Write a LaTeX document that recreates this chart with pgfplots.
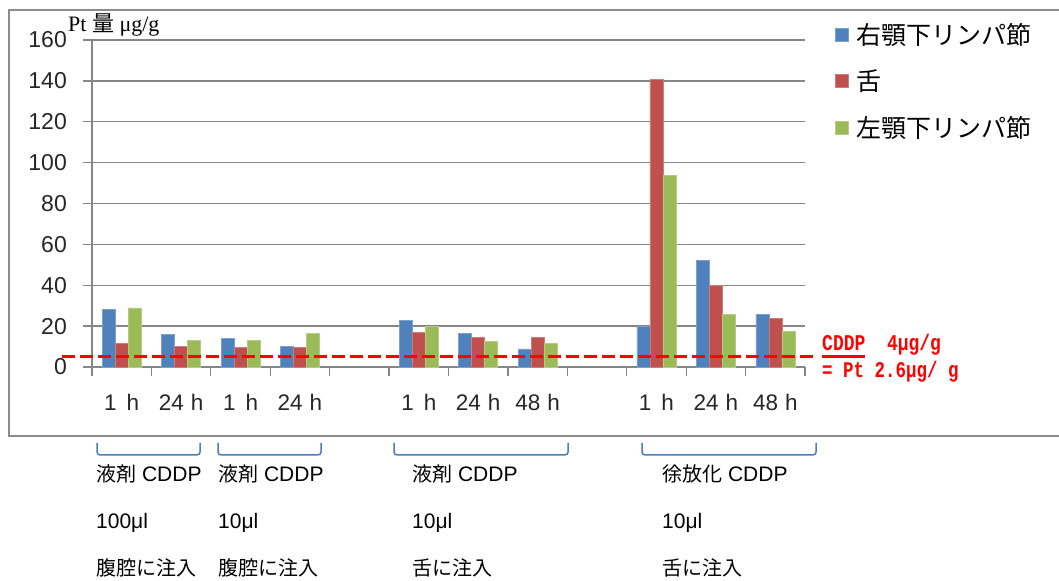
\documentclass[border=0pt]{standalone}
\usepackage{pgfplots}
\pgfplotsset{compat=1.18}
\usepackage{pgfplotstable}
\usepackage{fontspec}
\usepackage{graphicx}
\setmainfont{Liberation Sans}
\newfontfamily\cjk{Noto Sans CJK JP}
\newfontfamily\serif{Liberation Serif}
\newfontfamily\mono{Liberation Mono}
\definecolor{blueC}{HTML}{4F81BD}
\definecolor{redC}{HTML}{C0504D}
\definecolor{greenC}{HTML}{9BBB59}
\definecolor{gridgray}{HTML}{868686}
\definecolor{framegray}{HTML}{8C8C8C}
\definecolor{bracketC}{HTML}{4A7EBB}
\newcommand\J[1]{{\cjk\fontsize{20bp}{24bp}\selectfont #1}}

% x = slot (1..12), slots 5 and 9 are empty
\pgfplotstableread{
x y
1 28.3
2 15.8
3 14.0
4 10.2
6 22.7
7 16.5
8 8.9
10 19.8
11 52.0
12 25.6
}\rightLN
\pgfplotstableread{
x y
1 11.4
2 10.2
3 9.5
4 9.5
6 16.9
7 14.5
8 14.5
10 140.8
11 39.9
12 23.7
}\tongue
\pgfplotstableread{
x y
1 28.9
2 13.2
3 13.2
4 16.5
6 20.0
7 12.6
8 11.5
10 93.7
11 25.6
12 17.6
}\leftLN

\pgfplotsset{
  legsq/.style={legend image code/.code={\fill[##1] (0bp,-6.5bp) rectangle (13bp,6.5bp);}}
}

\begin{document}
\begin{tikzpicture}[x=1bp,y=1bp]
\path[use as bounding box] (0,0) rectangle (1059,581);
\draw[framegray, line width=2bp] (1075,571) -- (9,571) -- (9,145) -- (1075,145);
\begin{axis}[
  at={(92bp,214bp)}, anchor=south west,
  scale only axis, width=713bp, height=327bp,
  xmin=0.5, xmax=12.5, ymin=0, ymax=160,
  clip=false,
  axis x line*=bottom, axis y line*=left,
  axis line style={draw=gridgray, line width=1.3bp, -},
  ytick={0,20,...,160},
  ymajorgrids, grid style={draw=gridgray, line width=1.3bp},
  xtick={0.5,1.5,...,12.5}, xticklabels={},
  tick align=outside, major tick length=9bp,
  tick style={draw=gridgray, line width=1.3bp},
  extra x ticks={1,2,...,12},
  extra x tick labels={1\hspace{10bp}h, 24\hspace{7bp}h, 1\hspace{10bp}h, 24\hspace{7bp}h, {}, 1\hspace{10bp}h, 24\hspace{7bp}h, 48\hspace{7bp}h, {}, 1\hspace{10bp}h, 24\hspace{7bp}h, 48\hspace{7bp}h},
  extra x tick style={major tick length=0pt, xmajorgrids=false,
     xticklabel style={anchor=base, yshift=-44bp, font=\fontsize{22.5bp}{26bp}\selectfont, text=black!85}},
  /pgf/number format/assume math mode=true,
  yticklabel style={anchor=east, inner sep=0pt, xshift=-16bp, font=\fontsize{23bp}{27bp}\selectfont, text=black!85},
  ybar=0pt, bar width=13bp,
  legend style={at={(axis description cs:1.0421,1.061)}, anchor=north west, draw=none, fill=none,
     inner sep=0pt, row sep=18bp, column sep=5bp, font=\fontsize{25bp}{30bp}\selectfont\cjk,
     nodes={inner sep=3bp}, cells={anchor=west}},
  legend cell align=left,
]
\addplot[fill=blueC, draw=blueC!75!white, line width=0.5bp, legsq] table[x=x,y=y] {\rightLN};
\addlegendentry{右顎下リンパ節}
\addplot[fill=redC, draw=redC!75!white, line width=0.5bp, legsq] table[x=x,y=y] {\tongue};
\addlegendentry{舌}
\addplot[fill=greenC, draw=greenC!75!white, line width=0.5bp, legsq] table[x=x,y=y] {\leftLN};
\addlegendentry{左顎下リンパ節}
\addplot[sharp plot, red, line width=3bp, dash pattern=on 13bp off 5bp, forget plot] coordinates {(0,5) (12.63,5)};
\addplot[sharp plot, red, line width=3bp, forget plot] coordinates {(12.786,5) (13.51,5)};
\end{axis}

\node[anchor=base west, inner sep=0pt, font=\fontsize{22bp}{26bp}\selectfont\serif] at (68,549) {Pt {\cjk 量} μg/g};

\node[anchor=base west, inner sep=0pt, text=red, font=\fontsize{18bp}{20bp}\selectfont\mono\bfseries] at (822,230.5) {\scalebox{1}[1.25]{CDDP\ \ 4μg/g}};
\node[anchor=base west, inner sep=0pt, text=red, font=\fontsize{17.5bp}{20bp}\selectfont\mono\bfseries] at (822,203) {\scalebox{1}[1.28]{= Pt 2.6μg/ g}};

\draw[bracketC, line width=1.5bp, rounded corners=3bp] (97,138) -- (97,126) -- (200,126) -- (200,138);
\draw[bracketC, line width=1.5bp, rounded corners=3bp] (218,138) -- (218,126) -- (321,126) -- (321,138);
\draw[bracketC, line width=1.5bp, rounded corners=3bp] (394,138) -- (394,126) -- (568,126) -- (568,138);
\draw[bracketC, line width=1.5bp, rounded corners=3bp] (642,138) -- (642,126) -- (816,126) -- (816,138);

\begin{scope}[every node/.style={anchor=base west, inner sep=0pt, font=\fontsize{21bp}{25bp}\selectfont}]
\node at (96,99) {\J{液剤} CDDP};
\node at (96,52) {100μl};
\node at (96,5.5) {\J{腹腔に注入}};
\node at (218,99) {\J{液剤} CDDP};
\node at (218,52) {10μl};
\node at (218,5.5) {\J{腹腔に注入}};
\node at (412,99) {\J{液剤} CDDP};
\node at (412,52) {10μl};
\node at (412,5.5) {\J{舌に注入}};
\node at (662,99) {\J{徐放化} CDDP};
\node at (662,52) {10μl};
\node at (662,5.5) {\J{舌に注入}};
\end{scope}
\end{tikzpicture}
\end{document}
